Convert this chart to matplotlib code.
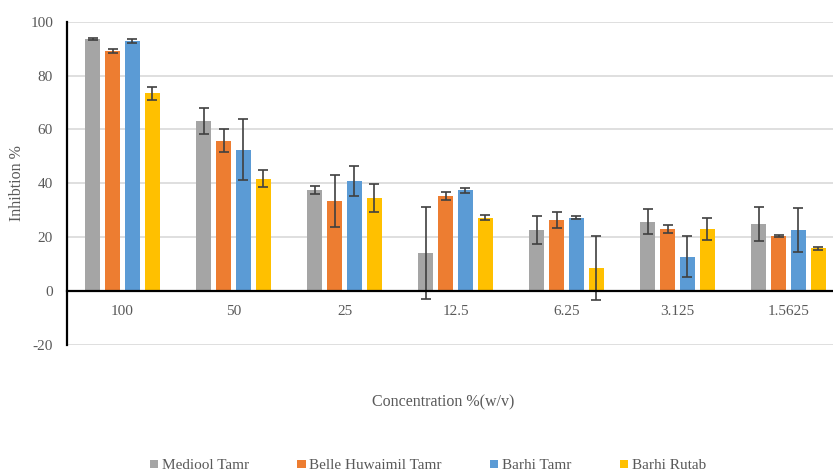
import matplotlib
matplotlib.use("Agg")
import matplotlib.pyplot as plt
import numpy as np

categories = ["100", "50", "25", "12.5", "6.25", "3.125", "1.5625"]
series_names = ["Mediool Tamr", "Belle Huwaimil Tamr", "Barhi Tamr", "Barhi Rutab"]
mediool = [93.6, 63.1, 37.5, 14.2, 22.7, 25.7, 24.9]
mediool_err = [0.3, 4.8, 1.5, 17.2, 5.3, 4.6, 6.4]
belle = [89.1, 55.9, 33.5, 35.4, 26.5, 23.0, 20.5]
belle_err = [0.6, 4.1, 9.6, 1.5, 2.9, 1.5, 0.3]
barhi_tamr = [92.9, 52.4, 40.8, 37.5, 27.2, 12.8, 22.7]
barhi_tamr_err = [0.8, 11.3, 5.6, 0.9, 0.6, 7.5, 8.3]
barhi_rutab = [73.4, 41.7, 34.5, 27.2, 8.5, 23.0, 15.9]
barhi_rutab_err = [2.3, 3.1, 5.1, 0.9, 11.9, 4.0, 0.6]
colors = ["#A5A5A5", "#ED7D31", "#5B9BD5", "#FFC000"]
yticks = [-20, 0, 20, 40, 60, 80, 100]

plt.rcParams['font.family'] = ['Liberation Serif', 'DejaVu Serif']
txt = "#595959"

fig = plt.figure(figsize=(8.33, 4.71), dpi=100)
ax = fig.add_axes([67/833, 1-345/471, (844-67)/833, (345-21.7)/471])

x = np.arange(len(categories))
data = [(mediool, mediool_err), (belle, belle_err), (barhi_tamr, barhi_tamr_err), (barhi_rutab, barhi_rutab_err)]
step = 0.18
width = 0.141
handles = []
for i, ((vals, errs), c, name) in enumerate(zip(data, colors, series_names)):
    off = (i - 1.5) * step
    b = ax.bar(x + off, vals, width=width, color=c, label=name, zorder=2,
               yerr=errs, error_kw=dict(ecolor="#404040", elinewidth=1.2, capsize=3.4, capthick=1.2, zorder=3))
    handles.append(b)

ax.set_xlim(-0.5, 6.5)
ax.set_ylim(-20, 100)
ax.set_yticks(yticks)
ax.set_yticklabels([str(t) for t in yticks])
ax.grid(axis='y', color='#D9D9D9', linewidth=1.2, zorder=0)
ax.set_axisbelow(True)
for s in ['top', 'right']:
    ax.spines[s].set_visible(False)
ax.spines['left'].set_color('black')
ax.spines['left'].set_linewidth(1.6)
ax.spines['bottom'].set_position(('data', 0))
ax.spines['bottom'].set_color('black')
ax.spines['bottom'].set_linewidth(1.6)
ax.spines['bottom'].set_zorder(4)
ax.set_xticks(x)
ax.set_xticklabels(categories)
ax.tick_params(axis='x', length=0, pad=10, labelsize=11, labelcolor=txt)
ax.tick_params(axis='y', length=0, pad=10, labelsize=11, labelcolor=txt)

fig.text(17/833, 1-183/471, "Inhibtion %", rotation=90, ha='center', va='center', fontsize=11.5, color=txt)
fig.text(443/833, 1-402/471, "Concentration %(w/v)", ha='center', va='center', fontsize=11.5, color=txt)

leg = fig.legend(handles=handles, labels=series_names, loc='center', bbox_to_anchor=(428/833, 1-465/471),
                 ncol=4, frameon=False, fontsize=11, handlelength=0.6, handleheight=0.6,
                 handletextpad=0.2, columnspacing=3.15, labelcolor=txt)
for h in leg.legend_handles:
    h.set_height(6)
    h.set_width(6)

fig.savefig("out.png", dpi=100)
